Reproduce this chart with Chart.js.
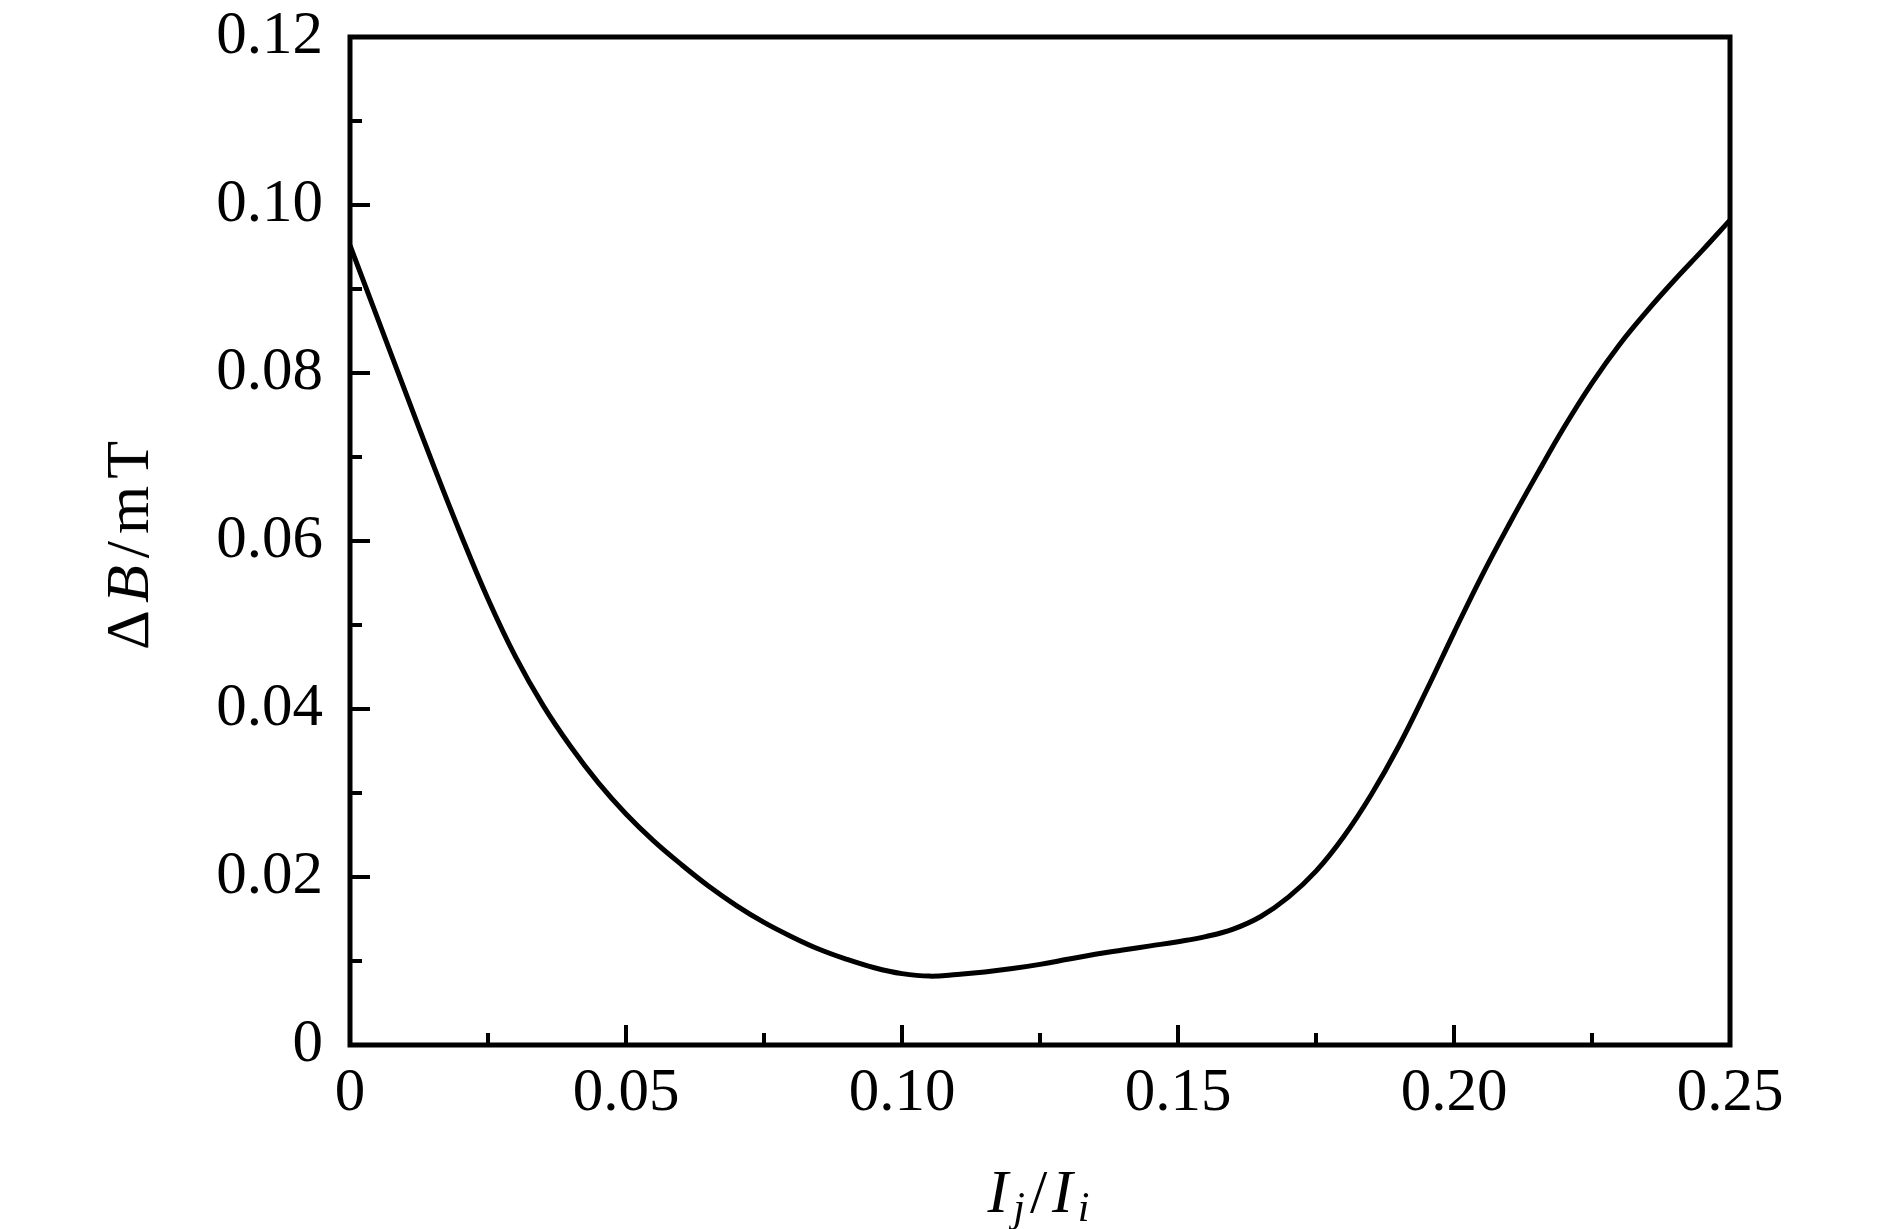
<!DOCTYPE html>
<html>
<head>
<meta charset="utf-8">
<script src="https://cdn.jsdelivr.net/npm/chart.js@4.4.0/dist/chart.umd.min.js"></script>
<style>
  body { margin: 0; background: #fff; }
  #wrap { position: relative; width: 1890px; height: 1229px; background: #fff; }
  canvas { position: absolute; left: 0; top: 0; }
  .title { position: absolute; font-family: "Liberation Serif", serif; font-size: 62px; color: #000; white-space: nowrap; line-height: 1; }
  .title i { font-style: italic; }
  .title sub { font-size: 42px; font-style: italic; vertical-align: -9px; line-height: 0; }
  #xTitle { left: 1041px; top: 1160px; transform: translateX(-50%); letter-spacing: 5px; }
  #yTitle { left: 127px; top: 542px; transform: translate(-50%, -50%) rotate(-90deg); letter-spacing: 7px; }
</style>
</head>
<body>
<div id="wrap">
  <canvas id="chart" width="1890" height="1229"></canvas>
  <div id="xTitle" class="title"><i>I</i><sub>j</sub>/<i>I</i><sub>i</sub></div>
  <div id="yTitle" class="title">Δ<i>B</i>/mT</div>
</div>
<script>
// Data: Ij/Ii vs ΔB (mT)
const ratio = [0, 0.005, 0.01, 0.015, 0.02, 0.025, 0.03, 0.035, 0.04, 0.045,
  0.05, 0.055, 0.06, 0.065, 0.07, 0.075, 0.08, 0.085, 0.09, 0.095,
  0.10, 0.105, 0.11, 0.115, 0.12, 0.125, 0.13, 0.135, 0.14, 0.145,
  0.15, 0.155, 0.16, 0.165, 0.17, 0.175, 0.18, 0.185, 0.19, 0.195,
  0.20, 0.205, 0.21, 0.215, 0.22, 0.225, 0.23, 0.235, 0.24, 0.245, 0.25];
const deltaB = [0.0952, 0.0865, 0.0778, 0.0692, 0.0609, 0.0531, 0.0462, 0.0404, 0.0355, 0.0312,
  0.0275, 0.0243, 0.0215, 0.0189, 0.0166, 0.0146, 0.0129, 0.0114, 0.0102, 0.0092,
  0.0085, 0.0082, 0.0084, 0.0087, 0.0091, 0.0096, 0.0102, 0.0108, 0.0113, 0.0118,
  0.0123, 0.0129, 0.0138, 0.0153, 0.0176, 0.0207, 0.0248, 0.0298, 0.0356, 0.0422,
  0.0491, 0.0558, 0.0620, 0.0679, 0.0736, 0.0788, 0.0834, 0.0874, 0.0911, 0.0946, 0.0982];

const xTickLabels = ['0', '0.05', '0.10', '0.15', '0.20', '0.25'];
const yTickLabels = ['0', '0.02', '0.04', '0.06', '0.08', '0.10', '0.12'];

const tickFont = { family: 'Liberation Serif', size: 61 };

// box frame + inward major/minor ticks on bottom and left axes
const frameTicks = {
  id: 'frameTicks',
  afterDatasetsDraw(chart) {
    const { ctx, chartArea: a, scales: { x, y } } = chart;
    const xs = x.ticks.map(t => t.value);
    const ys = y.ticks.map(t => t.value);
    ctx.save();
    ctx.strokeStyle = '#000';
    ctx.lineWidth = 4;
    ctx.beginPath();
    xs.forEach((v, i) => {
      const px = x.getPixelForValue(v);
      ctx.moveTo(px, a.bottom); ctx.lineTo(px, a.bottom - 20);
      if (i < xs.length - 1) {
        const mx = x.getPixelForValue((v + xs[i + 1]) / 2);
        ctx.moveTo(mx, a.bottom); ctx.lineTo(mx, a.bottom - 12);
      }
    });
    ys.forEach((v, i) => {
      const py = y.getPixelForValue(v);
      ctx.moveTo(a.left, py); ctx.lineTo(a.left + 20, py);
      if (i < ys.length - 1) {
        const my = y.getPixelForValue((v + ys[i + 1]) / 2);
        ctx.moveTo(a.left, my); ctx.lineTo(a.left + 12, my);
      }
    });
    ctx.stroke();
    ctx.lineWidth = 5;
    ctx.strokeRect(a.left, a.top, a.right - a.left, a.bottom - a.top);
    ctx.restore();
  }
};

new Chart(document.getElementById('chart'), {
  type: 'line',
  data: {
    datasets: [{
      data: ratio.map((r, i) => ({ x: r, y: deltaB[i] })),
      borderColor: '#000',
      borderWidth: 5,
      pointRadius: 0,
      fill: false,
      tension: 0.4
    }]
  },
  options: {
    responsive: false,
    animation: false,
    layout: { padding: { left: 0, top: 37, right: 160, bottom: 0 } },
    plugins: { legend: { display: false }, tooltip: { enabled: false } },
    scales: {
      x: {
        type: 'linear', min: 0, max: 0.25,
        grid: { display: false, drawTicks: false },
        border: { display: false },
        ticks: {
          stepSize: 0.05, color: '#000', font: tickFont, padding: 12, maxRotation: 0,
          callback: (v, i) => xTickLabels[i]
        },
        afterFit: s => { s.height = 184; s.paddingLeft = 0; s.paddingRight = 0; }
      },
      y: {
        type: 'linear', min: 0, max: 0.12,
        grid: { display: false, drawTicks: false },
        border: { display: false },
        ticks: {
          stepSize: 0.02, color: '#000', font: tickFont, padding: 27,
          callback: (v, i) => yTickLabels[i]
        },
        afterFit: s => { s.width = 350; s.paddingTop = 0; s.paddingBottom = 0; }
      }
    }
  },
  plugins: [frameTicks]
});
</script>
</body>
</html>
